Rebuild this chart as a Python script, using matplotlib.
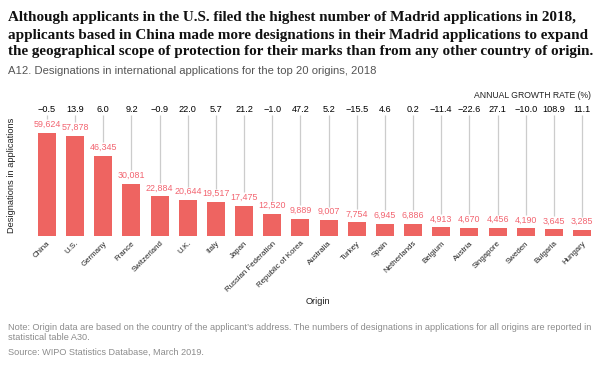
import numpy as np
import matplotlib
matplotlib.use('Agg')
import matplotlib.pyplot as plt

origins = ['China', 'U.S.', 'Germany', 'France', 'Switzerland', 'U.K.', 'Italy', 'Japan',
           'Russian Federation', 'Republic of Korea', 'Australia', 'Turkey', 'Spain',
           'Netherlands', 'Belgium', 'Austria', 'Singapore', 'Sweden', 'Bulgaria', 'Hungary']
designations = [59624, 57878, 46345, 30081, 22884, 20644, 19517, 17475, 12520, 9889,
                9007, 7754, 6945, 6886, 4913, 4670, 4456, 4190, 3645, 3285]
growth = [-0.5, 13.9, 6.0, 9.2, -0.9, 22.0, 5.7, 21.2, -1.0, 47.2,
          5.2, -15.5, 4.6, 0.2, -11.4, -22.6, 27.1, -10.0, 108.9, 11.1]

title_lines = ['Although applicants in the U.S. filed the highest number of Madrid applications in 2018,',
               'applicants based in China made more designations in their Madrid applications to expand',
               'the geographical scope of protection for their marks than from any other country of origin.']

bar_color = '#ee6461'
label_color = '#f26470'
grey_text = '#8c8c8c'
sans = 'Liberation Sans'

W, H = 604, 370
fig = plt.figure(figsize=(W / 100, H / 100), dpi=100)

# axes box in pixels (from top): baseline 235.7, top 115
ax_left, ax_right = 32.9, 596.1
ax_bot, ax_top = 235.7, 115.0
ax = fig.add_axes([ax_left / W, 1 - ax_bot / H, (ax_right - ax_left) / W, (ax_bot - ax_top) / H])

ymax = 70000
px_per_unit = (ax_bot - ax_top) / ymax
x = np.arange(len(origins))
ax.bar(x, designations, width=0.64, color=bar_color, zorder=2)
ax.set_xlim(-0.5, len(origins) - 0.5)
ax.set_ylim(0, ymax)

for i, (v, g) in enumerate(zip(designations, growth)):
    ax.annotate('{:,}'.format(v), (i, v), xytext=(0, 2.8), textcoords='offset points',
                ha='center', va='bottom', fontsize=6.4, color=label_color, family=sans)
    ax.vlines(i, v + 13.5 / px_per_unit, ymax, color='#cccccc', lw=0.9, zorder=1)
    gtxt = '{:.1f}'.format(g).replace('-', '\u2212')
    ax.annotate(gtxt, (i, 1), xycoords=('data', 'axes fraction'), xytext=(0, 4.0),
                textcoords='offset points', ha='center', va='center', fontsize=6.6,
                color='black', family=sans)

for s in ax.spines.values():
    s.set_visible(False)
ax.set_yticks([])
ax.set_xticks(x)
ax.set_xticklabels(origins, rotation=45, ha='right', va='top', rotation_mode='anchor',
                   fontsize=5.7, family=sans, color='#222222')
ax.tick_params(axis='x', length=0, pad=3)
ax.patch.set_alpha(0)

# titles
for yy, line in zip([17, 35, 52], title_lines):
    fig.text(8 / W, 1 - yy / H, line, ha='left', va='center', fontsize=10.9, fontweight='bold',
             family='Liberation Serif', color='#111111')
fig.text(8 / W, 1 - 71 / H, 'A12. Designations in international applications for the top 20 origins, 2018',
         ha='left', va='center', fontsize=8.15, family=sans, color='#555555')

fig.text(591 / W, 1 - 96 / H, 'ANNUAL GROWTH RATE (%)', ha='right', va='center', fontsize=6.2,
         family=sans, color='#222222')
fig.text(12 / W, 1 - 175 / H, 'Designations in applications', rotation=90, ha='center',
         va='center', fontsize=6.7, family=sans, color='#222222')
fig.text(318 / W, 1 - 302 / H, 'Origin', ha='center', va='center', fontsize=6.7,
         family=sans, color='#222222')

fig.text(8 / W, 1 - 327 / H,
         "Note: Origin data are based on the country of the applicant\u2019s address. The numbers of "
         "designations in applications for all origins are reported in",
         ha='left', va='center', fontsize=6.6, family=sans, color=grey_text)
fig.text(8 / W, 1 - 338 / H, 'statistical table A30.', ha='left', va='center', fontsize=6.6,
         family=sans, color=grey_text)
fig.text(8 / W, 1 - 352 / H, 'Source: WIPO Statistics Database, March 2019.', ha='left',
         va='center', fontsize=6.6, family=sans, color=grey_text)

fig.savefig('out.png', dpi=100)
